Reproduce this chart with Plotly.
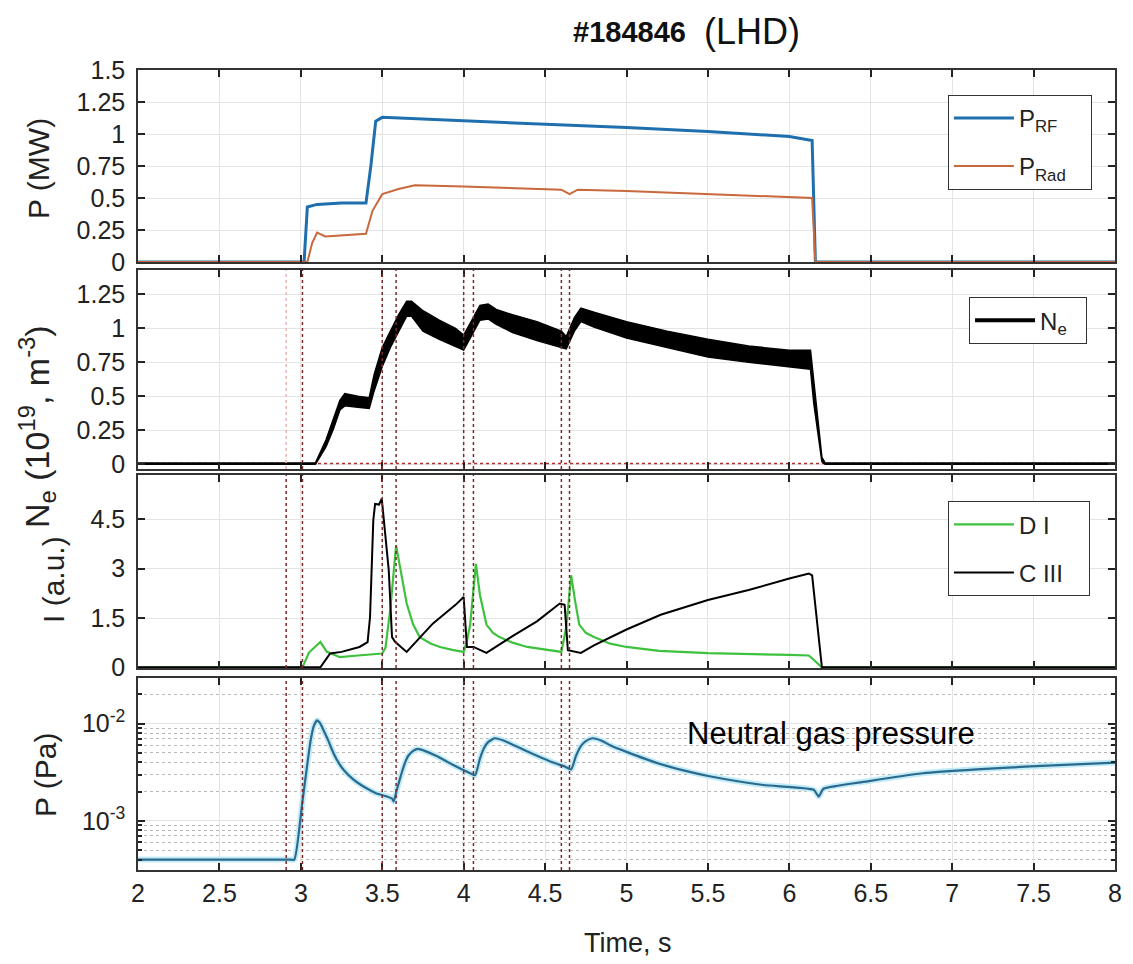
import plotly.graph_objects as go
from plotly.subplots import make_subplots

# ---------------- data ----------------
event_times = [2.91, 3.01, 3.50, 3.585, 4.0, 4.06, 4.60, 4.65]

t_rf = [2.0, 3.02, 3.04, 3.10, 3.25, 3.40, 3.43, 3.46, 3.50, 3.70, 4.0, 4.5, 5.0, 5.5, 6.0, 6.14, 6.15, 6.16, 8.0]
p_rf = [0, 0, 0.43, 0.45, 0.46, 0.46, 0.75, 1.10, 1.13, 1.12, 1.10, 1.08, 1.05, 1.02, 0.98, 0.95, 0.5, 0, 0]

t_rad = [2.0, 3.04, 3.07, 3.10, 3.15, 3.25, 3.40, 3.44, 3.50, 3.60, 3.70, 4.0, 4.3, 4.6, 4.65, 4.7, 5.0, 5.5, 6.0, 6.14, 6.16, 8.0]
p_rad = [0, 0, 0.15, 0.23, 0.20, 0.21, 0.22, 0.40, 0.53, 0.57, 0.60, 0.59, 0.58, 0.565, 0.53, 0.565, 0.555, 0.53, 0.51, 0.50, 0, 0]

ne_t = [2.0, 3.09, 3.155, 3.2, 3.24, 3.27, 3.35, 3.42, 3.45, 3.50, 3.55, 3.60, 3.65, 3.68, 3.75, 3.85, 3.95, 4.00,
        4.05, 4.10, 4.15, 4.20, 4.30, 4.45, 4.60, 4.63, 4.68, 4.72, 4.80, 5.0, 5.25, 5.5, 5.75, 6.0, 6.13, 6.15,
        6.2, 6.22, 8.0]
ne_lo = [0, 0, 0.13, 0.26, 0.40, 0.43, 0.42, 0.41, 0.54, 0.72, 0.86, 0.98, 1.09, 1.09, 0.98, 0.92, 0.87, 0.84,
         0.95, 1.06, 1.07, 1.03, 0.97, 0.91, 0.86, 0.85, 0.98, 1.05, 1.01, 0.93, 0.86, 0.79, 0.75, 0.72, 0.70, 0.45,
         0.02, 0, 0]
ne_hi = [0.01, 0.01, 0.18, 0.33, 0.47, 0.52, 0.50, 0.49, 0.66, 0.86, 0.98, 1.10, 1.20, 1.20, 1.13, 1.06, 1.00, 0.95,
         1.06, 1.17, 1.18, 1.14, 1.10, 1.05, 0.98, 0.94, 1.08, 1.15, 1.12, 1.05, 0.98, 0.92, 0.87, 0.84, 0.84, 0.60,
         0.05, 0.01, 0.01]
ne_ref_t = [2.0, 8.0]
ne_ref = [0.005, 0.005]

t_c3 = [2.0, 3.12, 3.18, 3.25, 3.36, 3.41, 3.425, 3.445, 3.456, 3.48, 3.497, 3.517, 3.54, 3.56, 3.58, 3.65,
        3.81, 3.95, 4.0, 4.02, 4.06, 4.14, 4.3, 4.45, 4.59, 4.62, 4.64, 4.72, 4.8, 5.0, 5.21, 5.5, 5.75, 6.0,
        6.12, 6.14, 6.2, 8.0]
i_c3 = [0, 0, 0.42, 0.47, 0.62, 0.77, 1.53, 4.47, 4.97, 4.95, 5.13, 4.16, 2.95, 0.92, 0.77, 0.47,
        1.33, 1.9, 2.14, 0.62, 0.62, 0.44, 0.95, 1.4, 1.94, 1.9, 0.52, 0.44, 0.67, 1.15, 1.6, 2.05, 2.35, 2.7,
        2.85, 2.8, 0, 0]

t_d1 = [2.0, 3.01, 3.05, 3.12, 3.16, 3.24, 3.35, 3.50, 3.52, 3.55, 3.585, 3.62, 3.65, 3.69, 3.73, 3.80, 3.855,
        3.93, 4.0, 4.02, 4.04, 4.075, 4.10, 4.14, 4.18, 4.22, 4.30, 4.39, 4.5, 4.6, 4.63, 4.66, 4.685, 4.71, 4.75,
        4.8, 4.9, 5.0, 5.2, 5.5, 6.0, 6.12, 6.2, 8.0]
i_d1 = [0, 0, 0.45, 0.77, 0.47, 0.31, 0.36, 0.42, 0.6, 1.8, 3.71, 2.7, 1.94, 1.3, 0.92, 0.72, 0.62,
        0.53, 0.47, 0.8, 1.3, 3.15, 2.2, 1.3, 1.05, 0.92, 0.75, 0.62, 0.53, 0.47, 1.22, 2.8, 2.0, 1.3, 1.05,
        0.92, 0.72, 0.62, 0.5, 0.43, 0.38, 0.36, 0, 0]

t_p = [2.0, 2.5, 2.93, 2.96, 3.01, 3.06, 3.08, 3.10, 3.12, 3.14, 3.17, 3.20, 3.235, 3.27, 3.32, 3.37, 3.42, 3.47, 3.53,
       3.56, 3.57, 3.59, 3.615, 3.64, 3.66, 3.69, 3.72, 3.76, 3.83, 3.93, 4.04, 4.07, 4.10, 4.125, 4.15, 4.19,
       4.24, 4.32, 4.45, 4.55, 4.62, 4.66, 4.69, 4.72, 4.75, 4.79, 4.84, 4.91, 5.0, 5.18, 5.35, 5.51, 5.84, 6.15,
       6.18, 6.21, 6.49, 6.82, 7.15, 7.48, 8.0]
p_pa = [4.0e-4, 4.0e-4, 4.0e-4, 4.0e-4, 1.6e-3, 6.7e-3, 9.5e-3, 1.08e-2, 1.0e-2, 8.5e-3, 6.61e-3, 5.0e-3, 3.89e-3, 3.24e-3,
        2.69e-3, 2.34e-3, 2.09e-3, 1.9e-3, 1.78e-3, 1.70e-3, 1.58e-3, 2.1e-3, 2.95e-3, 3.98e-3, 4.68e-3,
        5.25e-3, 5.5e-3, 5.25e-3, 4.68e-3, 3.8e-3, 3.09e-3, 2.95e-3, 4.37e-3, 5.62e-3, 6.46e-3, 7.08e-3,
        6.76e-3, 5.89e-3, 4.68e-3, 3.98e-3, 3.63e-3, 3.39e-3, 4.68e-3, 5.89e-3, 6.61e-3, 7.08e-3, 6.76e-3,
        5.89e-3, 5.13e-3, 3.98e-3, 3.31e-3, 2.88e-3, 2.34e-3, 2.09e-3, 1.78e-3, 2.14e-3, 2.57e-3, 3.09e-3,
        3.39e-3, 3.63e-3, 3.98e-3]

x_ticks = [2, 2.5, 3, 3.5, 4, 4.5, 5, 5.5, 6, 6.5, 7, 7.5, 8]
y1_ticks = [0, 0.25, 0.5, 0.75, 1, 1.25, 1.5]
y1_text = ["0", "0.25", "0.5", "0.75", "1", "1.25", "1.5"]
y2_ticks = [0, 0.25, 0.5, 0.75, 1, 1.25]
y2_text = ["0", "0.25", "0.5", "0.75", "1", "1.25"]
y3_ticks = [0, 1.5, 3, 4.5]
y3_text = ["0", "1.5", "3", "4.5"]
y4_ticks = [1e-3, 1e-2]
y4_text = ["10<sup>-3</sup>", "10<sup>-2</sup>"]
y4_minor = [4e-4, 5e-4, 6e-4, 7e-4, 8e-4, 9e-4, 2e-3, 3e-3, 4e-3, 5e-3, 6e-3, 7e-3, 8e-3, 9e-3, 2e-2]

# ---------------- figure ----------------
FONT = "Liberation Sans, Arial, sans-serif"
fig = make_subplots(rows=4, cols=1, shared_xaxes=True)

fig.add_trace(go.Scatter(x=t_rf, y=p_rf, mode="lines", name="P<sub>RF</sub>&nbsp;&nbsp;&nbsp;",
                         line=dict(color="#1f6fae", width=3), legend="legend", legendgroup="a"), row=1, col=1)
fig.add_trace(go.Scatter(x=t_rad, y=p_rad, mode="lines", name="P<sub>Rad</sub>&nbsp;&nbsp;&nbsp;",
                         line=dict(color="#c8683c", width=2), legend="legend", legendgroup="b"), row=1, col=1)

fig.add_trace(go.Scatter(x=ne_ref_t, y=ne_ref, mode="lines", showlegend=False,
                         line=dict(color="#b03030", width=1.5, dash="dot")), row=2, col=1)
fig.add_trace(go.Scatter(x=ne_t, y=ne_lo, mode="lines", showlegend=False,
                         line=dict(color="black", width=1.5)), row=2, col=1)
fig.add_trace(go.Scatter(x=ne_t, y=ne_hi, mode="lines", showlegend=False, fill="tonexty",
                         fillcolor="black", line=dict(color="black", width=1.5)), row=2, col=1)
fig.add_trace(go.Scatter(x=[None], y=[None], mode="lines", name="N<sub>e</sub>&nbsp;&nbsp;",
                         line=dict(color="black", width=4), legend="legend2"), row=2, col=1)

fig.add_trace(go.Scatter(x=t_d1, y=i_d1, mode="lines", name="D I&nbsp;&nbsp;&nbsp;&nbsp;",
                         line=dict(color="#3ec23e", width=2.2), legend="legend3", legendgroup="c"), row=3, col=1)
fig.add_trace(go.Scatter(x=t_c3, y=i_c3, mode="lines", name="C III&nbsp;&nbsp;&nbsp;",
                         line=dict(color="black", width=2), legend="legend3", legendgroup="d"), row=3, col=1)

fig.add_trace(go.Scatter(x=t_p, y=p_pa, mode="lines", showlegend=False, line_shape="spline",
                         line=dict(color="#c4ecf7", width=6, smoothing=0.5)), row=4, col=1)
fig.add_trace(go.Scatter(x=t_p, y=p_pa, mode="lines", showlegend=False, line_shape="spline",
                         line=dict(color="#2a6a8e", width=2.2, smoothing=0.5)), row=4, col=1)

# event lines on panels 2-4
for r in (2, 3, 4):
    xr = f"x{r}"
    yr = f"y{r} domain"
    for t in event_times:
        col = "#e8b8b8" if (r == 2 and t < 3.0) else "#7a2a2a"
        fig.add_shape(type="line", xref=xr, yref=yr, x0=t, x1=t, y0=0, y1=1,
                      line=dict(color=col, width=1.5, dash="dot"), layer="above")

axis_common = dict(showline=True, linecolor="#333", linewidth=1.5, mirror="ticks",
                   ticks="inside", ticklen=7, tickcolor="#222", tickwidth=1.5,
                   showgrid=True, gridcolor="#e4e4e4", gridwidth=1, zeroline=False,
                   tickfont=dict(family=FONT, size=25, color="#222"))

domains = [[0.76, 1.0], [0.50125, 0.75], [0.2525, 0.49375], [0.0, 0.24]]
for i in range(4):
    fig.update_xaxes(range=[2, 8], tickvals=x_ticks, ticktext=[f"{v:g}" for v in x_ticks],
                     showticklabels=(i == 3), row=i + 1, col=1, **axis_common)
fig.update_yaxes(domain=domains[0], range=[0, 1.5], tickvals=y1_ticks, ticktext=y1_text,
                 row=1, col=1, ticklabelstandoff=6, **axis_common)
fig.update_yaxes(domain=domains[1], range=[-0.035, 1.43], tickvals=y2_ticks, ticktext=y2_text,
                 row=2, col=1, ticklabelstandoff=6, **axis_common)
fig.update_yaxes(domain=domains[2], range=[-0.02, 5.85], tickvals=y3_ticks, ticktext=y3_text,
                 row=3, col=1, ticklabelstandoff=6, **axis_common)
fig.update_yaxes(domain=domains[3], type="log", range=[-3.505, -1.53], tickvals=y4_ticks, ticktext=y4_text,
                 minor=dict(tickvals=y4_minor, showgrid=True, griddash="dot", gridcolor="#b8b8b8",
                            ticks="inside", ticklen=4, tickcolor="#222"),
                 row=4, col=1, ticklabelstandoff=6, **axis_common)

legend_common = dict(bgcolor="white", bordercolor="#333", borderwidth=1,
                     font=dict(family=FONT, size=24, color="#222"), itemwidth=60,
                     xanchor="left", yanchor="top", traceorder="grouped", tracegroupgap=14)
fig.update_layout(
    width=1133, height=964,
    margin=dict(l=138, r=18, t=70, b=94),
    plot_bgcolor="white", paper_bgcolor="white",
    legend=dict(x=0.829, y=0.969, **legend_common),
    legend2=dict(x=0.8506, y=0.716, **legend_common),
    legend3=dict(x=0.829, y=0.461, **legend_common),
)

ann = []
ann.append(dict(text="<b>#184846</b>", x=0.563, y=1.0475, xref="paper", yref="paper",
                xanchor="right", yanchor="middle", showarrow=False,
                font=dict(family=FONT, size=29, color="#111")))
ann.append(dict(text="(LHD)", x=0.5773, y=1.0475, xref="paper", yref="paper",
                xanchor="left", yanchor="middle", showarrow=False,
                font=dict(family=FONT, size=36, color="#111")))
ytitles = [("P (MW)", -0.1024, 0.8775, 30),
           ("N<sub>e</sub> (10<sup>19</sup>, m<sup>-3</sup>)", -0.1034, 0.555, 34),
           ("I (a.u.)", -0.087, 0.3625, 30),
           ("P (Pa)", -0.0952, 0.11875, 30)]
for txt, x, y, fs in ytitles:
    ann.append(dict(text=txt, x=x, y=y, xref="paper", yref="paper", textangle=-90,
                    xanchor="center", yanchor="middle", showarrow=False,
                    font=dict(family=FONT, size=fs, color="#222")))
ann.append(dict(text="Time, s", x=0.5015, y=-0.09125, xref="paper", yref="paper",
                xanchor="center", yanchor="middle", showarrow=False,
                font=dict(family=FONT, size=27, color="#222")))
ann.append(dict(text="Neutral gas pressure", x=0.56, y=0.171, xref="paper", yref="paper",
                xanchor="left", yanchor="middle", showarrow=False,
                font=dict(family=FONT, size=31, color="black")))
fig.update_layout(annotations=ann)

fig.write_html("out.html")
